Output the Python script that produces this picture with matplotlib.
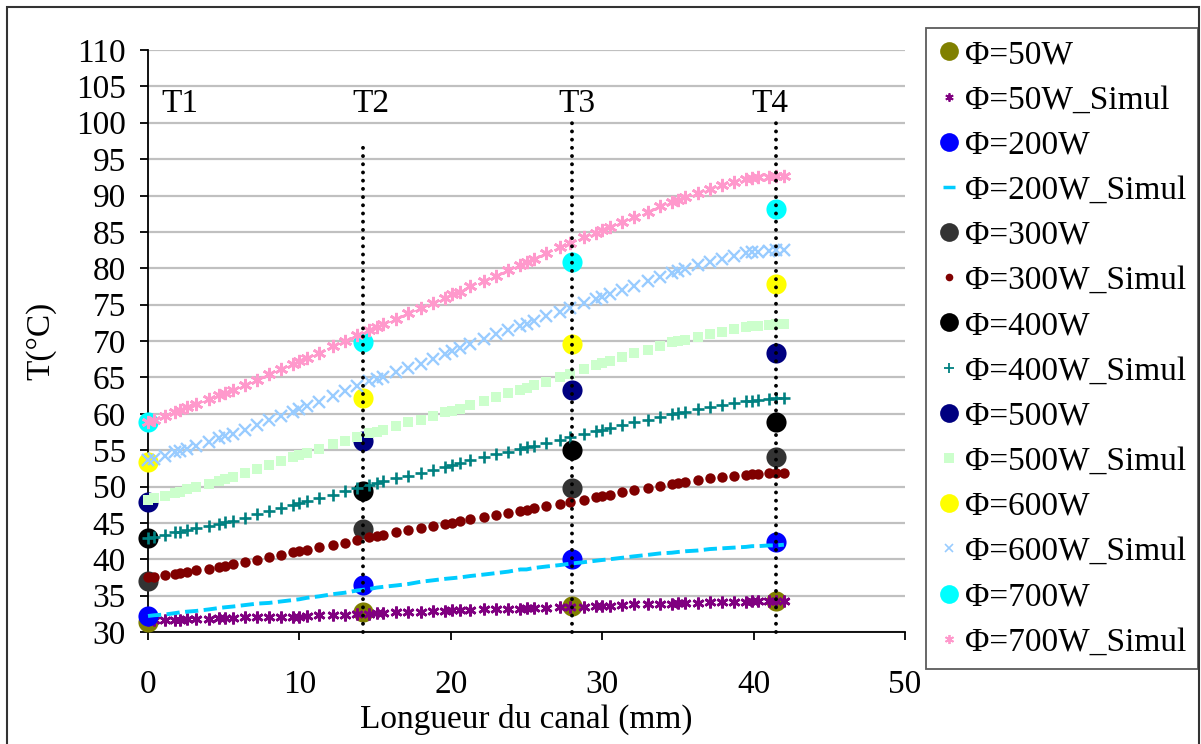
import matplotlib
matplotlib.use('Agg')
import matplotlib.pyplot as plt
from matplotlib.lines import Line2D
from matplotlib.patches import Rectangle

plt.rcParams['font.family'] = ['Liberation Serif', 'DejaVu Serif']

# Measured points (thermocouples T1..T4)
x_exp = [0.0, 14.2, 28.0, 41.5]
exp_series = {
    'Φ=50W':  [31.4, 32.8, 33.6, 34.2],
    'Φ=200W': [32.2, 36.4, 40.0, 42.4],
    'Φ=300W': [37.0, 44.1, 49.8, 54.0],
    'Φ=400W': [42.9, 49.4, 55.0, 58.9],
    'Φ=500W': [47.9, 56.3, 63.3, 68.3],
    'Φ=600W': [53.4, 62.1, 69.6, 77.8],
    'Φ=700W': [58.8, 69.9, 80.9, 88.2],
}

# Simulation mesh positions (mm)
x_sim = [0.0, 0.4, 1.1, 1.8, 2.1, 2.6, 3.2, 4.0, 4.7, 5.1, 5.6, 6.4, 7.2, 8.0, 8.8, 9.6,
         10.0, 10.5, 11.3, 12.2, 13.0, 13.8, 14.6, 15.1, 15.5, 16.4, 17.2, 18.0, 18.8, 19.6,
         20.1, 20.6, 21.3, 22.2, 23.0, 23.8, 24.6, 25.0, 25.5, 26.3, 27.2, 27.9, 28.8, 29.6,
         30.0, 30.5, 31.3, 32.1, 33.0, 33.8, 34.6, 35.0, 35.5, 36.3, 37.1, 37.9, 38.7, 39.5,
         39.9, 40.3, 41.0, 41.5, 42.0]

sim_50 = [31.6, 31.6, 31.7, 31.7, 31.7, 31.8, 31.8, 31.8, 31.9, 31.9, 31.9, 32.0, 32.0, 32.0, 32.1, 32.1,
          32.1, 32.2, 32.3, 32.3, 32.4, 32.5, 32.5, 32.6, 32.6, 32.7, 32.7, 32.8, 32.9, 32.9,
          33.0, 33.0, 33.0, 33.1, 33.1, 33.2, 33.2, 33.3, 33.3, 33.3, 33.4, 33.5, 33.5, 33.6,
          33.6, 33.6, 33.7, 33.8, 33.8, 33.9, 33.9, 34.0, 34.0, 34.0, 34.1, 34.1, 34.1, 34.1,
          34.2, 34.2, 34.2, 34.2, 34.2]
sim_200 = [32.2, 32.3, 32.4, 32.6, 32.7, 32.8, 32.9, 33.1, 33.3, 33.4, 33.5, 33.7, 33.9, 34.0, 34.2, 34.4,
           34.5, 34.7, 34.9, 35.2, 35.4, 35.7, 35.9, 36.1, 36.2, 36.4, 36.6, 36.9, 37.1, 37.3,
           37.4, 37.5, 37.7, 37.9, 38.1, 38.3, 38.6, 38.6, 38.8, 39.0, 39.2, 39.4, 39.6, 39.8,
           39.9, 40.0, 40.2, 40.4, 40.6, 40.8, 40.9, 41.0, 41.1, 41.2, 41.4, 41.5, 41.6, 41.7,
           41.8, 41.8, 41.9, 41.9, 42.0]
sim_300 = [37.5, 37.6, 37.8, 38.0, 38.1, 38.3, 38.5, 38.7, 39.0, 39.1, 39.3, 39.6, 39.9, 40.3, 40.6, 41.0,
           41.1, 41.3, 41.7, 42.0, 42.3, 42.7, 43.0, 43.2, 43.3, 43.7, 44.0, 44.3, 44.6, 44.9,
           45.0, 45.2, 45.5, 45.8, 46.1, 46.4, 46.7, 46.8, 47.0, 47.3, 47.6, 47.9, 48.2, 48.5,
           48.7, 48.9, 49.2, 49.5, 49.8, 50.1, 50.3, 50.5, 50.6, 50.9, 51.1, 51.3, 51.4, 51.6,
           51.7, 51.7, 51.8, 51.9, 51.9]
sim_400 = [42.9, 43.1, 43.4, 43.7, 43.8, 44.0, 44.3, 44.6, 44.9, 45.1, 45.3, 45.7, 46.2, 46.6, 47.1, 47.5,
           47.7, 48.0, 48.4, 48.9, 49.4, 49.8, 50.2, 50.5, 50.7, 51.1, 51.5, 51.9, 52.3, 52.7,
           53.0, 53.2, 53.6, 54.0, 54.4, 54.8, 55.2, 55.4, 55.6, 56.0, 56.4, 56.8, 57.2, 57.6,
           57.8, 58.0, 58.4, 58.8, 59.2, 59.6, 59.9, 60.1, 60.3, 60.6, 60.9, 61.2, 61.5, 61.7,
           61.8, 61.9, 62.0, 62.1, 62.1]
sim_500 = [48.2, 48.4, 48.7, 49.1, 49.3, 49.6, 49.9, 50.4, 50.8, 51.0, 51.3, 51.8, 52.4, 52.9, 53.5, 54.0,
           54.3, 54.6, 55.2, 55.8, 56.3, 56.8, 57.3, 57.5, 57.8, 58.3, 58.8, 59.2, 59.7, 60.2,
           60.4, 60.7, 61.2, 61.8, 62.3, 62.8, 63.3, 63.6, 63.9, 64.4, 65.0, 65.5, 66.1, 66.7,
           67.0, 67.3, 67.8, 68.3, 68.8, 69.3, 69.8, 70.0, 70.2, 70.6, 71.0, 71.3, 71.6, 71.9,
           72.0, 72.1, 72.2, 72.3, 72.3]
sim_600 = [53.6, 53.8, 54.2, 54.7, 54.9, 55.2, 55.6, 56.1, 56.6, 56.9, 57.2, 57.8, 58.5, 59.1, 59.7, 60.3,
           60.6, 61.0, 61.6, 62.4, 63.1, 63.8, 64.5, 64.8, 65.1, 65.7, 66.3, 66.9, 67.5, 68.2,
           68.6, 69.0, 69.6, 70.3, 70.9, 71.5, 72.1, 72.4, 72.8, 73.4, 74.0, 74.6, 75.2, 75.8,
           76.1, 76.4, 77.0, 77.6, 78.2, 78.8, 79.4, 79.6, 79.9, 80.4, 80.9, 81.3, 81.7, 82.1,
           82.2, 82.3, 82.4, 82.5, 82.5]
sim_700 = [58.9, 59.2, 59.7, 60.3, 60.5, 60.9, 61.4, 62.0, 62.6, 62.9, 63.3, 64.0, 64.7, 65.4, 66.1, 66.9,
           67.2, 67.7, 68.4, 69.3, 70.0, 70.8, 71.5, 71.9, 72.3, 73.0, 73.8, 74.5, 75.2, 75.9,
           76.4, 76.8, 77.5, 78.3, 79.0, 79.8, 80.5, 80.9, 81.3, 82.1, 82.9, 83.5, 84.3, 84.9,
           85.3, 85.7, 86.4, 87.1, 87.8, 88.5, 89.1, 89.4, 89.8, 90.3, 90.9, 91.4, 91.9, 92.2,
           92.4, 92.5, 92.6, 92.7, 92.7]

sim_series = {
    'Φ=50W_Simul': sim_50,
    'Φ=200W_Simul': sim_200,
    'Φ=300W_Simul': sim_300,
    'Φ=400W_Simul': sim_400,
    'Φ=500W_Simul': sim_500,
    'Φ=600W_Simul': sim_600,
    'Φ=700W_Simul': sim_700,
}

exp_colors = ['#808000', '#0000FF', '#333333', '#000000', '#000080', '#FFFF00', '#00FFFF']
asterisk = (6, 2, 0)
# (color, marker, size, edge width, linestyle) for each simulation series
sim_styles = [
    ('#800080', asterisk, 8.5, 1.9, 'none'),
    ('#00CCFF', None, 0, 0, (0, (3.4, 1.4))),
    ('#800000', 'o', 7.5, 0, 'none'),
    ('#008080', '+', 8.5, 1.9, 'none'),
    ('#CCFFCC', 's', 7.5, 0, 'none'),
    ('#99CCFF', 'x', 8, 1.7, 'none'),
    ('#FF99CC', asterisk, 9.5, 1.9, 'none'),
]
legend_sim = [
    ('#800080', asterisk, 6, 1.3, 'none'),
    ('#00CCFF', '_', 8, 2.5, 'none'),
    ('#800000', 'o', 5.5, 0, 'none'),
    ('#008080', '+', 6.5, 1.3, 'none'),
    ('#CCFFCC', 's', 6.5, 0, 'none'),
    ('#99CCFF', 'x', 6, 1.2, 'none'),
    ('#FF99CC', asterisk, 6.5, 1.3, 'none'),
]

T_labels = ['T1', 'T2', 'T3', 'T4']
T_label_x = [2.1, 14.7, 28.3, 41.1]
T_line_x = [14.2, 28.0, 41.5]
T_line_top = [96.9, 100.0, 100.0]


def main():
    fig = plt.figure(figsize=(12.01, 7.44), dpi=100)
    ax = fig.add_axes([148 / 1201, 1 - 632 / 744, 757 / 1201, 582 / 744])

    handles = []
    exp_names = list(exp_series.keys())
    sim_names = list(sim_series.keys())
    for i in range(7):
        ax.plot(x_exp, exp_series[exp_names[i]], 'o', color=exp_colors[i],
                markersize=14.5, markeredgewidth=0, clip_on=False, zorder=3 + 2 * i)
        c, m, ms, mew, ls = sim_styles[i]
        if ls == 'none':
            ax.plot(x_sim, sim_series[sim_names[i]], linestyle='none', marker=m, color=c,
                    markersize=ms, markeredgewidth=mew, clip_on=False, zorder=4 + 2 * i)
        else:
            ax.plot(x_sim, sim_series[sim_names[i]], linestyle=ls, color=c, linewidth=2.8,
                    clip_on=False, zorder=4 + 2 * i)
        handles.append(Line2D([], [], linestyle='none', marker='o', color=exp_colors[i],
                              markersize=13.5, markeredgewidth=0, label=exp_names[i]))
        lc, lm, lms, lmew, lls = legend_sim[i]
        handles.append(Line2D([], [], linestyle='none', marker=lm, color=lc,
                              markersize=lms, markeredgewidth=lmew, label=sim_names[i]))

    # thermocouple positions
    for xv, top in zip(T_line_x, T_line_top):
        ax.plot([xv, xv], [30, top], color='black', linewidth=2.8,
                linestyle=(0, (0.01, 2.1)), dash_capstyle='round', zorder=30, clip_on=False)
    for lab, xv in zip(T_labels, T_label_x):
        ax.text(xv, 102.6, lab, fontsize=24, ha='center', va='center', zorder=31)

    ax.set_xlim(0, 50)
    ax.set_ylim(30, 110)
    ax.set_xticks(range(0, 51, 10))
    ax.set_yticks(range(30, 111, 5))
    ax.yaxis.grid(True, color='#c0c0c0', linewidth=1.6)
    ax.set_axisbelow(True)
    for s in ['top', 'right']:
        ax.spines[s].set_visible(False)
    for s in ['left', 'bottom']:
        ax.spines[s].set_color('black')
        ax.spines[s].set_linewidth(1.3)
    ax.tick_params(direction='out', length=6, width=1.3, labelsize=24)
    ax.tick_params(axis='y', pad=10)
    ax.tick_params(axis='x', pad=21)
    ax.set_xlabel('Longueur du canal (mm)', fontsize=24, labelpad=3)
    ax.set_ylabel('T(°C)', fontsize=24, labelpad=14)

    leg = fig.legend(handles=handles, loc='upper left',
                     bbox_to_anchor=(926 / 1201, 1 - 28 / 744), borderaxespad=0,
                     fontsize=24, frameon=True, fancybox=False, handlelength=0.65,
                     handletextpad=0.17, labelspacing=0.44, borderpad=0.35)
    leg.get_frame().set_edgecolor('#333333')
    leg.get_frame().set_linewidth(1.3)

    # outer chart border
    fig.patches.append(Rectangle((7 / 1201, -0.01), 1192 / 1201, 1 - 7 / 744 + 0.01,
                                 transform=fig.transFigure, fill=False,
                                 edgecolor='#333333', linewidth=1.5))

    fig.savefig('out.png', dpi=100)


if __name__ == '__main__':
    main()
